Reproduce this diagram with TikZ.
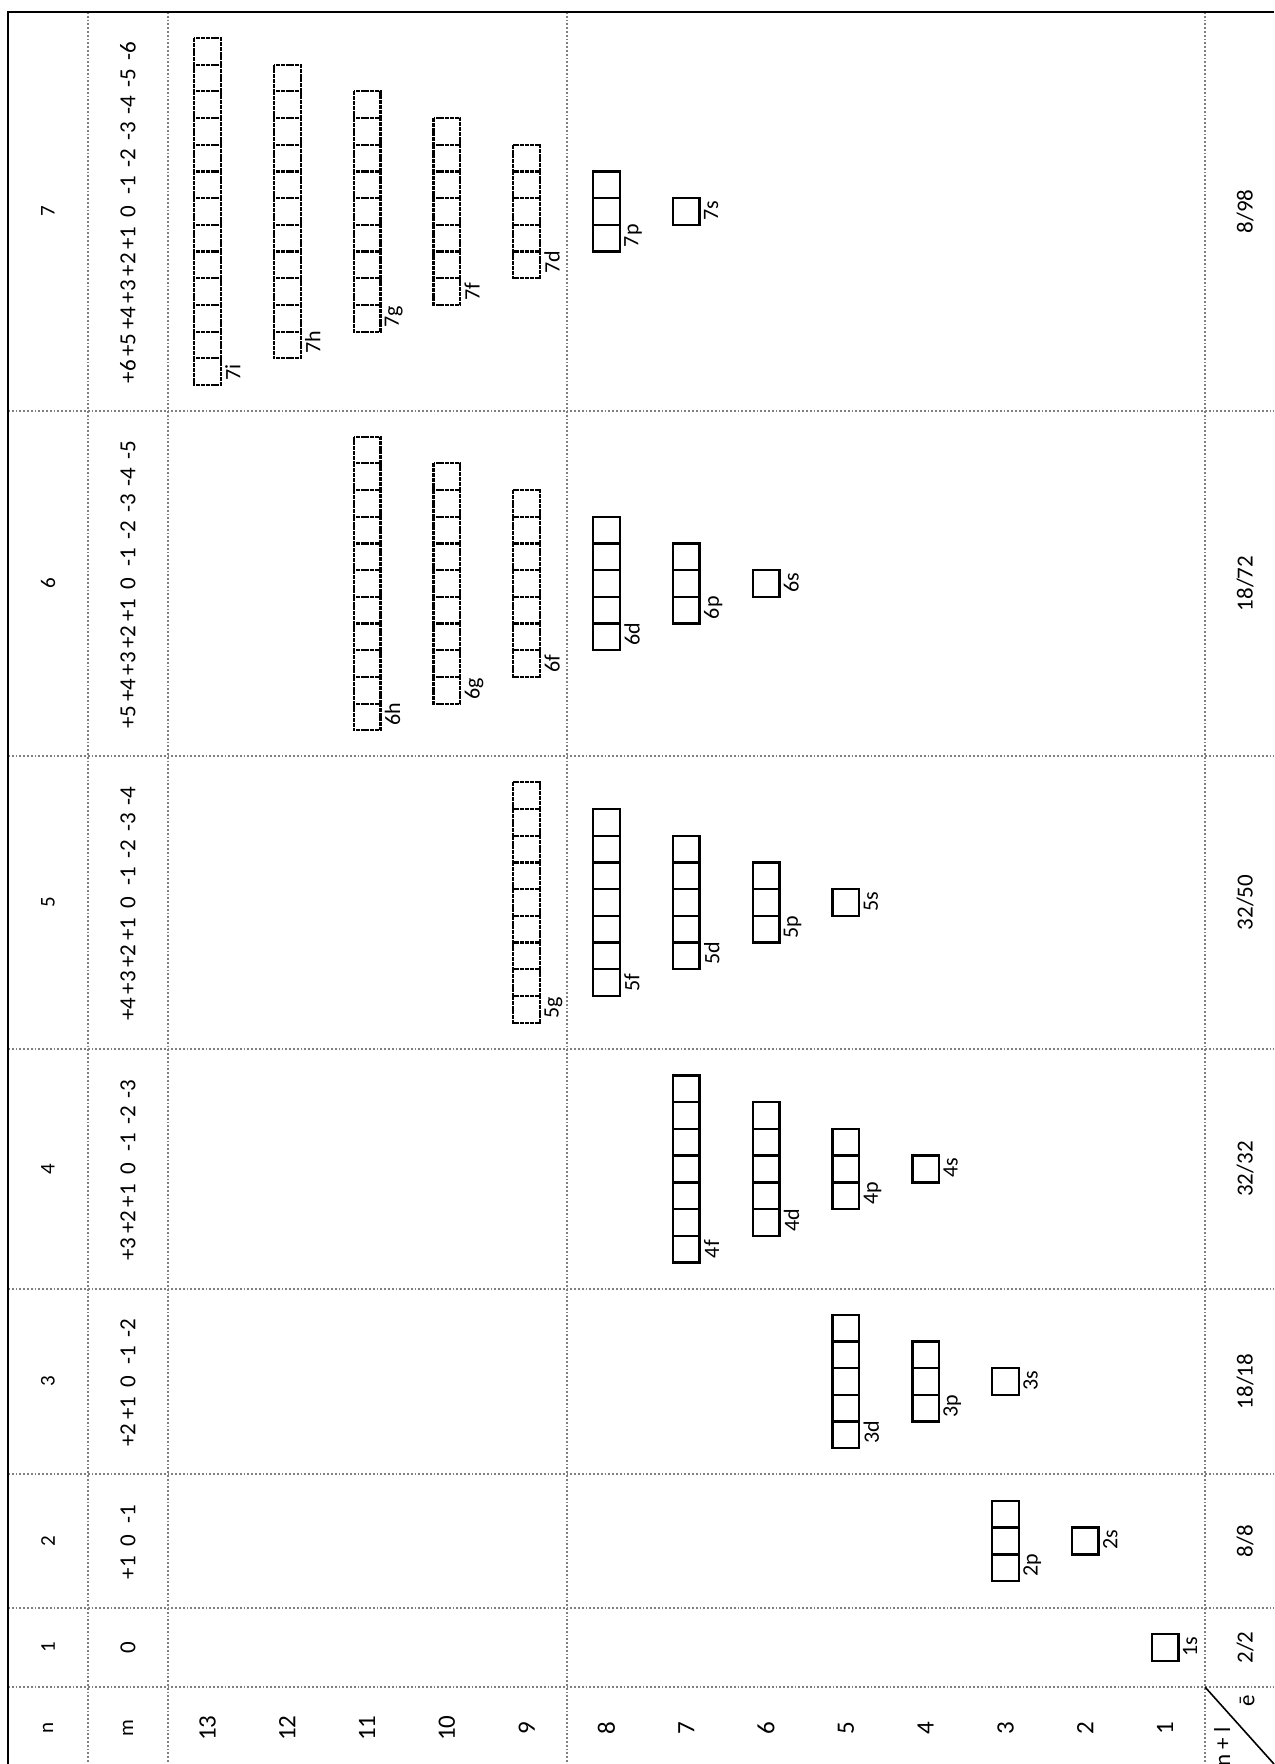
\documentclass[tikz,border=0pt]{standalone}
\usepackage{fontspec}
\setmainfont{Carlito}
\usepackage{tikz}
\usetikzlibrary{calc}

\newcommand{\orbletter}[1]{\ifcase#1 s\or p\or d\or f\or g\or h\or i\fi}

\begin{document}
\begin{tikzpicture}[
  x=0.5pt, y=-0.5pt,
  frameline/.style={line width=1pt},
  gridline/.style={gray, line width=0.9pt, densely dotted},
  orb/.style={line width=1.2pt},
  orbx/.style={line width=1.1pt, dash pattern=on 2pt off 0.4pt},
  lbl/.style={rotate=90, inner sep=0pt, font=\fontsize{11.5}{14}\selectfont},
  nlbl/.style={lbl, font=\fontsize{10.5}{13}\selectfont},
  rowlbl/.style={lbl, font=\fontsize{12.5}{15}\selectfont},
  olbl/.style={rotate=90, anchor=north west, inner sep=2pt, font=\fontsize{11}{13}\selectfont}
]
\useasboundingbox (0,0) rectangle (1274,1764);
\def\bx{26.7}   % orbital box size
\def\rw{79.8}   % width of one n+l row

%========== frame and grid ==========
\foreach \yy in {411,756,1049,1289,1474,1608,1687}{\draw[gridline] (8,\yy) -- (1274,\yy);}
\foreach \xx in {88,168,567,1205}{\draw[gridline] (\xx,12) -- (\xx,1764);}
\draw[frameline] (8,1764) -- (8,12) -- (1274,12);
\coordinate (corner) at (1205,1687);
\coordinate (cornerend) at (1274,1764);
\draw[line width=0.8pt] (corner) -- (cornerend);

%========== header column: n, m, n+l ==========
\node[nlbl] (hn) at (48,1728) {n};
\node[nlbl] (hm) at (128,1728) {m};
\foreach \k in {1,...,13}{\node[rowlbl] (r\k) at ({207.5+(13-\k)*\rw},1728) {\k};}
\node[lbl] (he) at (1247,1701) {ē};
\node[lbl] (hnl) at (1222,1747) {n + l};

%========== one column per shell n ==========
\foreach \n/\yc/\ee in {1/1647.5/{2/2}, 2/1541/{8/8}, 3/1381.5/{18/18}, 4/1169/{32/32},
                        5/902.5/{32/50}, 6/583.5/{18/72}, 7/211.5/{8/98}}{
  \pgfmathtruncatemacro\L{\n-1}
  \node[nlbl] (n\n) at (48,\yc) {\n};
  \node[lbl] (e\n) at (1245,\yc) {\ee};
  % magnetic numbers, one per box position
  \foreach \m in {-\L,...,\L}{
    \pgfmathtruncatemacro\mm{\m}
    \node[lbl] (m\n\mm) at (128,{\yc+\mm*\bx}) {\ifnum\mm>0 +\fi\mm};
  }
  % orbitals l = 0 .. n-1, placed in row n+l
  \foreach \l in {0,...,\L}{
    \pgfmathtruncatemacro\k{\n+\l}
    \pgfmathtruncatemacro\nb{2*\l+1}
    \pgfmathsetmacro\xc{207.5+(13-\k)*\rw}
    \pgfmathsetmacro\ytop{\yc-\nb*\bx/2}
    \ifnum\k>8 \def\bst{orbx}\else\def\bst{orb}\fi
    \draw[\bst] \foreach \b in {1,...,\nb}{(\xc-\bx/2,\ytop+\b*\bx-\bx) rectangle ++(\bx,\bx)};
    \node[olbl] (o\n\l) at (\xc+\bx/2,\ytop+\nb*\bx) {\n\orbletter{\l}};
  }
}
\end{tikzpicture}
\end{document}
